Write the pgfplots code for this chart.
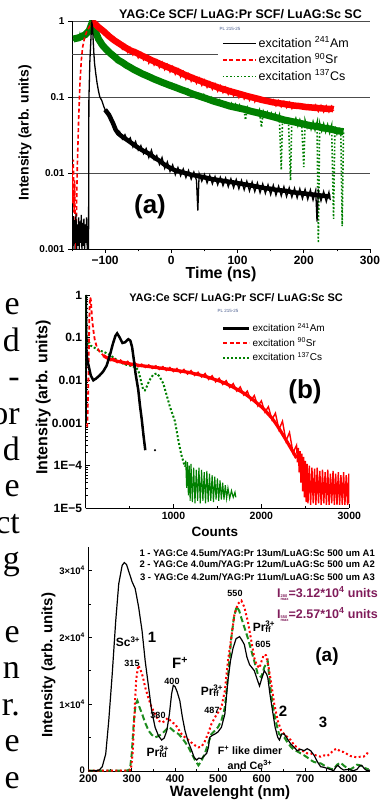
\documentclass[border=0pt]{standalone}
\usepackage{fontspec}
\setmainfont{Liberation Sans}
\newfontfamily\seriffont{Liberation Serif}
\usepackage{pgfplots}
\pgfplotsset{compat=1.18}
\definecolor{cred}{RGB}{255,0,0}
\definecolor{cgreen}{RGB}{0,128,0}
\definecolor{cgreenc}{RGB}{30,140,30}
\definecolor{cpurple}{RGB}{128,28,90}
\definecolor{cpl}{RGB}{70,90,140}
\newcommand{\fs}[1]{\fontsize{#1}{#1}\selectfont}
\newcommand{\supsub}[2]{\rlap{\textsuperscript{#1}}\textsubscript{#2}}
\pgfplotsset{
  myax/.style={scale only axis, anchor=south west,
    axis x line*=bottom, axis y line*=left,
    axis line style={-, line width=0.8pt},
    every outer x axis line/.append style={-},
    every outer y axis line/.append style={-},
    tick style={black, line width=0.6pt}},
}
\begin{document}
\begin{tikzpicture}[x=1pt,y=1pt]
\useasboundingbox (0,0) rectangle (390,800);

% fragments of the page text at the left edge
\foreach \k/\t in {0/e,1/d,2/-,3/or,4/d,5/e,6/ct,7/g,9/e,10/n,11/r.,12/e,13/e} {
  \node[anchor=base east, inner sep=0pt, font=\seriffont\fs{34}] at (20, {800-315-36.4*\k}) {\t};
}

%================ (a) decay ==================
\begin{axis}[myax,
  at={(72pt,551pt)}, width=298pt, height=228pt,
  xmin=-150, xmax=300, ymode=log, ymin=0.001, ymax=1,
  xtick={-100,0,100,200,300}, xticklabels={−100,0,100,200,300},
  minor xtick={-150,-50,50,150,250},
  ytick={0.001,0.01,0.1,1}, yticklabels={0.001,0.01,0.1,1},
  yminorticks=false,
  tick align=outside, major tick length=4pt, minor tick length=2.5pt,
  xticklabel style={font=\bfseries\fs{12}},
  yticklabel style={font=\bfseries\fs{10}},
  ymajorgrids, grid style={black!70, line width=0.6pt},
  xlabel={Time (ns)}, xlabel style={font=\bfseries\fs{16}, at={(axis description cs:0.5,0)}, anchor=center, yshift=-25pt},
  ylabel={Intensity (arb. units)}, ylabel style={font=\bfseries\fs{14}, at={(axis description cs:-0.158,0.51)}, anchor=center},
  legend style={draw=none, fill=none, at={(0.503,0.93)}, anchor=north west, font=\fs{12.5}, inner sep=0pt, row sep=3.5pt, column sep=1pt, nodes={inner sep=1pt, text height=9pt, text depth=2pt}},
  legend cell align=left,
  legend image code/.code={\draw[#1] (0pt,0pt) -- (33pt,0pt);},
  reverse legend,
]
\addplot[black!70, line width=0.6pt, forget plot] coordinates {(-150,0.368) (70,0.368)};
% 137Cs band + noisy trace
\addplot[cgreen, line width=7pt, forget plot] coordinates {
(-148,0.58) (-140,0.6) (-130,0.66) (-124,0.75) (-120,0.93) (-116,0.78) (-110,0.58) (-104,0.48) (-98,0.42) (-92,0.375) (-86,0.34) (-80,0.305) (-74,0.285) (-68,0.262) (-62,0.245) (-56,0.228) (-50,0.215) (-44,0.202) (-38,0.192) (-32,0.182) (-26,0.172) (-20,0.164) (-14,0.156) (-8,0.149) (-2,0.142) (4,0.136) (10,0.13) (16,0.124) (22,0.119) (28,0.113) (34,0.108) (40,0.104) (46,0.1) (52,0.096) (58,0.092) (64,0.088) (70,0.085) (76,0.082) (82,0.079) (88,0.076) (94,0.074) (100,0.072) (110,0.069) (120,0.065) (130,0.062) (140,0.059) (150,0.056) (160,0.053) (170,0.05) (180,0.048) (190,0.046) (200,0.044) (210,0.042) (220,0.041) (230,0.039) (240,0.038) (250,0.036) (260,0.035)};
\addplot[cgreen, dotted, line width=1.6pt] coordinates {
(-148,0.55) (-146,0.65) (-144,0.52) (-142,0.62) (-140,0.55) (-138,0.66) (-136,0.56) (-134,0.68) (-132,0.6) (-130,0.72) (-128,0.65) (-126,0.78) (-124,0.72) (-122,0.88) (-120,0.97) (-118,0.85) (-116,0.78) (-114,0.68) (-112,0.64) (-110,0.56) (-107,0.55) (-104,0.47) (-101,0.47) (-98,0.41) (-95,0.42) (-92,0.37) (-89,0.38) (-86,0.33) (-83,0.345) (-80,0.30) (-77,0.315) (-74,0.28) (-71,0.29) (-68,0.26) (-65,0.27) (-62,0.24) (-59,0.255) (-56,0.225) (-53,0.24) (-50,0.21) (-47,0.225) (-44,0.2) (-41,0.21) (-38,0.19) (-35,0.2) (-32,0.178) (-29,0.19) (-26,0.168) (-23,0.18) (-20,0.16) (-17,0.171) (-14,0.152) (-11,0.163) (-8,0.145) (-5,0.156) (-2,0.138) (1,0.15) (4,0.132) (7,0.143) (10,0.126) (13,0.137) (16,0.12) (19,0.131) (22,0.115) (25,0.126) (28,0.11) (31,0.121) (34,0.105) (37,0.116) (40,0.1) (43,0.111) (46,0.096) (49,0.107) (52,0.092) (55,0.102) (58,0.088) (61,0.098) (64,0.085) (67,0.094) (70,0.082) (73,0.091) (76,0.079) (79,0.088) (82,0.076) (85,0.085) (88,0.073) (91,0.082) (94,0.07) (97,0.08) (100,0.068) (103,0.078) (106,0.066) (109,0.075) (112,0.05) (115,0.072) (118,0.062) (121,0.071) (124,0.06) (127,0.069) (130,0.058) (133,0.067) (136,0.04) (139,0.064) (142,0.055) (145,0.063) (148,0.053) (151,0.061) (154,0.052) (157,0.06) (160,0.05) (163,0.058) (166,0.011) (168,0.056) (171,0.047) (174,0.055) (177,0.045) (180,0.008) (182,0.053) (185,0.044) (188,0.052) (191,0.042) (194,0.05) (197,0.041) (200,0.012) (202,0.049) (205,0.04) (208,0.048) (211,0.038) (214,0.047) (217,0.037) (220,0.046) (222,0.0012) (224,0.045) (227,0.036) (230,0.044) (233,0.035) (236,0.043) (239,0.034) (242,0.042) (245,0.0025) (247,0.041) (250,0.033) (253,0.04) (256,0.031) (258,0.002) (260,0.036)};
\addlegendentry{excitation \textsuperscript{137}Cs}
% 90Sr band + noisy trace
\addplot[cred, line width=6.5pt, forget plot] coordinates {
(-119,0.97) (-116,0.93) (-110,0.83) (-102,0.73) (-94,0.63) (-86,0.555) (-78,0.5) (-70,0.45) (-62,0.41) (-54,0.385) (-46,0.355) (-38,0.33) (-30,0.305) (-22,0.285) (-14,0.265) (-6,0.248) (2,0.232) (10,0.217) (18,0.2) (26,0.187) (34,0.175) (42,0.165) (50,0.155) (58,0.146) (66,0.138) (74,0.13) (82,0.124) (90,0.118) (98,0.113) (106,0.108) (114,0.103) (122,0.099) (130,0.095) (138,0.091) (146,0.088) (154,0.085) (162,0.083) (170,0.081) (178,0.079) (186,0.077) (194,0.076) (202,0.074) (210,0.073) (218,0.072) (226,0.071) (234,0.07) (242,0.07) (245,0.069)};
\addplot[cred, dash pattern=on 4pt off 2.5pt, line width=1.6pt] coordinates {
(-150,0.012) (-149,0.004) (-148,0.015) (-147,0.003) (-146,0.008) (-145,0.0015) (-144,0.001) (-143,0.004) (-142,0.012) (-140,0.05) (-138,0.15) (-136,0.3) (-134,0.45) (-131,0.6) (-128,0.72) (-125,0.8) (-122,0.9) (-119,1.0) (-116,0.97) (-113,0.86) (-110,0.88) (-106,0.74) (-102,0.78) (-98,0.63) (-94,0.67) (-90,0.55) (-86,0.6) (-82,0.48) (-78,0.53) (-74,0.43) (-70,0.48) (-66,0.39) (-62,0.44) (-58,0.36) (-54,0.41) (-50,0.33) (-46,0.38) (-42,0.31) (-38,0.35) (-34,0.28) (-30,0.33) (-26,0.265) (-22,0.305) (-18,0.245) (-14,0.285) (-10,0.23) (-6,0.265) (-2,0.215) (2,0.25) (6,0.2) (10,0.232) (14,0.185) (18,0.215) (22,0.172) (26,0.2) (30,0.162) (34,0.187) (38,0.152) (42,0.176) (46,0.143) (50,0.166) (54,0.135) (58,0.156) (62,0.127) (66,0.148) (70,0.12) (74,0.14) (78,0.115) (82,0.133) (86,0.109) (90,0.126) (94,0.104) (98,0.121) (102,0.099) (106,0.116) (110,0.095) (114,0.111) (118,0.091) (122,0.106) (126,0.087) (130,0.102) (134,0.084) (138,0.098) (142,0.081) (146,0.094) (150,0.079) (154,0.091) (158,0.077) (162,0.089) (166,0.075) (170,0.087) (174,0.073) (178,0.085) (182,0.071) (186,0.083) (190,0.07) (194,0.082) (198,0.068) (202,0.08) (206,0.067) (210,0.079) (214,0.066) (218,0.078) (222,0.065) (226,0.077) (230,0.064) (234,0.076) (238,0.064) (242,0.075) (245,0.066)};
\addlegendentry{excitation \textsuperscript{90}Sr}
% 241Am band + noisy trace
\addplot[black, line width=4.5pt, forget plot] coordinates {
(-100,0.068) (-94,0.058) (-88,0.045) (-84,0.037) (-80,0.033) (-74,0.03) (-66,0.027) (-58,0.024) (-50,0.0215) (-42,0.0195) (-34,0.018) (-26,0.016) (-18,0.0145) (-10,0.0128) (-2,0.0117) (6,0.0108) (14,0.0104) (22,0.0099) (30,0.0095) (38,0.0092) (46,0.0089) (54,0.0086) (62,0.0083) (70,0.0081) (78,0.0079) (86,0.0077) (94,0.0075) (102,0.0073) (110,0.0071) (118,0.0069) (126,0.0067) (134,0.0065) (142,0.0063) (150,0.0062) (158,0.006) (166,0.0059) (174,0.0058) (182,0.0056) (190,0.0055) (198,0.0054) (206,0.0053) (214,0.0052) (222,0.0051) (230,0.005) (240,0.0049)};
\addplot[black, line width=1.3pt] coordinates {
(-150,0.0022) (-149,0.0011) (-148,0.0027) (-147,0.0010) (-146,0.0024) (-145,0.0012) (-144,0.0029) (-143,0.0010) (-142,0.0021) (-141,0.0011) (-140,0.0026) (-139,0.0010) (-138,0.0023) (-137,0.0012) (-136,0.0028) (-135,0.0010) (-134,0.0022) (-133,0.0011) (-132,0.0025) (-131,0.0010) (-130,0.0021) (-129,0.0012) (-128,0.0026) (-127,0.0010) (-126,0.0020) (-125,0.0010) (-124.5,0.09) (-123,0.3) (-121,0.7) (-120,0.95) (-119,0.85) (-118,0.55) (-117,0.38) (-116,0.28) (-114,0.2) (-112,0.15) (-110,0.12) (-108,0.1) (-105,0.09) (-102,0.075) (-100,0.068) (-97,0.063) (-94,0.058) (-91,0.052) (-88,0.045) (-86,0.04) (-84,0.036) (-82,0.034) (-80,0.033) (-78,0.035) (-74,0.028) (-70,0.032) (-66,0.026) (-62,0.029) (-58,0.022) (-54,0.026) (-50,0.020) (-46,0.023) (-42,0.018) (-38,0.021) (-34,0.016) (-30,0.02) (-26,0.015) (-22,0.017) (-18,0.013) (-14,0.016) (-10,0.0115) (-6,0.014) (-2,0.0105) (2,0.0128) (6,0.0095) (10,0.0118) (14,0.0092) (18,0.0113) (22,0.0087) (26,0.0108) (30,0.0083) (34,0.0103) (38,0.0080) (40,0.0032) (42,0.0098) (46,0.0078) (50,0.0096) (54,0.0074) (58,0.0093) (62,0.0072) (66,0.009) (70,0.0070) (74,0.0088) (78,0.0068) (82,0.0086) (86,0.0066) (90,0.0084) (94,0.0064) (98,0.0082) (102,0.0062) (106,0.008) (110,0.0060) (114,0.0078) (118,0.0058) (122,0.0076) (126,0.0057) (130,0.0074) (134,0.0055) (138,0.0072) (142,0.0054) (146,0.007) (150,0.0052) (154,0.0069) (158,0.0051) (162,0.0067) (166,0.0050) (170,0.0066) (174,0.0049) (178,0.0064) (182,0.0048) (186,0.0063) (190,0.0047) (194,0.0062) (198,0.0046) (202,0.0061) (206,0.0045) (210,0.006) (214,0.0044) (218,0.0059) (220,0.0023) (222,0.0058) (226,0.0043) (230,0.0057) (234,0.0042) (238,0.0056) (240,0.0044)};
\addlegendentry{excitation \textsuperscript{241}Am}
\end{axis}
\node[anchor=east, inner sep=0pt, font=\bfseries\fs{12.5}] at (362,786) {YAG:Ce SCF/ LuAG:Pr SCF/ LuAG:Sc SC};
\node[inner sep=0pt, font=\fs{4.5}, text=cpl] at (230,771) {PL 215-25};
\node[inner sep=0pt, font=\bfseries\fs{26}] at (150,593) {(a)};

%================ (b) pulse height ==================
\begin{axis}[myax,
  at={(85.5pt,291.7pt)}, width=263.8pt, height=213.3pt,
  xmin=0, xmax=3000, ymode=log, ymin=1e-5, ymax=1,
  xtick={1000,2000,3000}, xticklabels={1000,2000,3000},
  minor xtick={500,1500,2500},
  ytick={1e-5,1e-4,0.001,0.01,0.1,1}, yticklabels={1E−5,1E−4,0.001,0.01,0.1,1},
  tick align=inside, major tick length=4pt, minor tick length=2.5pt,
  xticklabel style={font=\bfseries\fs{10.5}},
  yticklabel style={font=\bfseries\fs{12}},
  xlabel={Counts}, xlabel style={font=\bfseries\fs{13.5}, at={(axis description cs:0.49,0)}, anchor=center, yshift=-24pt},
  ylabel={Intensity (arb. units)}, ylabel style={font=\bfseries\fs{16}, at={(axis description cs:-0.16,0.52)}, anchor=center},
  legend style={draw=none, fill=none, at={(0.517,0.869)}, anchor=north west, font=\fs{10}, inner sep=0pt, row sep=3.5pt, column sep=1pt, nodes={inner sep=1pt, text height=7.5pt, text depth=1.5pt}},
  legend cell align=left,
  legend image code/.code={\draw[#1] (0pt,0pt) -- (26pt,0pt);},
  reverse legend,
]
% 137Cs
\addplot[cgreen, dotted, line width=2pt] coordinates {
(4,0.001) (5,0.5) (6,1.0) (8,0.3) (12,0.1) (20,0.07) (38,0.08) (60,0.065) (89,0.06) (120,0.055) (150,0.05) (203,0.047) (240,0.043) (279,0.039) (320,0.034) (355,0.03) (390,0.027) (420,0.025) (468,0.023) (510,0.022) (544,0.021) (575,0.02) (600,0.017) (620,0.012) (640,0.008) (657,0.006) (675,0.0058) (695,0.007) (714,0.0087) (740,0.011) (770,0.0135) (808,0.0145) (840,0.0125) (865,0.01) (884,0.0085) (905,0.006) (930,0.004) (960,0.0024) (990,0.0016) (1017,0.0011) (1040,6e-4) (1055,4e-4) (1075,2.5e-4) (1090,1.8e-4) (1110,1.3e-4) (1130,9.5e-5)};
\addlegendentry{excitation \textsuperscript{137}Cs}
\addplot[cgreen, line width=1.1pt, forget plot] coordinates {
(1130,9.5e-5) (1140,1.3e-4) (1150,3e-5) (1160,1.2e-4) (1170,2e-5) (1180,1e-4) (1190,1.5e-5) (1200,1.1e-4) (1215,1.4e-5) (1230,9e-5) (1245,1.3e-5) (1260,8e-5) (1275,1.5e-5) (1290,9e-5) (1305,1.3e-5) (1320,8e-5) (1335,1.5e-5) (1350,7e-5) (1365,1.3e-5) (1380,7.5e-5) (1395,1.4e-5) (1410,6.5e-5) (1425,1.5e-5) (1440,6e-5) (1455,1.4e-5) (1470,5.5e-5) (1485,1.6e-5) (1500,5e-5) (1515,1.5e-5) (1530,4.5e-5) (1545,1.6e-5) (1560,4e-5) (1575,1.6e-5) (1590,3.5e-5) (1605,1.7e-5) (1620,3e-5) (1640,1.7e-5) (1660,2.6e-5) (1680,1.8e-5) (1700,2.4e-5) (1710,1.8e-5)};
% 90Sr
\addplot[cred, dash pattern=on 4pt off 2.5pt, line width=1.8pt] coordinates {
(20,0.0008) (30,0.005) (38,0.05) (45,0.4) (52,0.88) (60,0.8) (68,0.45) (78,0.24) (89,0.15) (105,0.09) (127,0.062) (160,0.047) (203,0.038) (240,0.036)};
\addlegendentry{excitation \textsuperscript{90}Sr}
\addplot[cred, line width=3.2pt, forget plot] coordinates {
(203,0.038) (240,0.034) (280,0.031) (320,0.03) (360,0.028) (400,0.027) (440,0.026) (480,0.025) (520,0.024) (560,0.0235) (600,0.0225) (640,0.022) (680,0.0215) (720,0.021) (760,0.0205) (800,0.02) (840,0.0195) (880,0.019) (920,0.0185) (960,0.018) (1000,0.0175) (1040,0.017) (1080,0.0165) (1120,0.016) (1160,0.0155) (1200,0.015) (1240,0.0143) (1280,0.0137) (1320,0.013) (1360,0.0124) (1400,0.0117) (1440,0.011) (1480,0.0103) (1520,0.0097) (1560,0.009) (1600,0.0083) (1640,0.0076) (1680,0.0069) (1720,0.0062) (1760,0.0056) (1800,0.005) (1840,0.0044) (1880,0.0038) (1920,0.0033) (1960,0.0028) (2000,0.0024) (2040,0.002) (2080,0.0016) (2120,0.0013) (2160,0.001) (2200,7.5e-4) (2240,5.5e-4) (2280,4e-4) (2320,2.9e-4) (2360,2.1e-4) (2400,1.5e-4)};
\addplot[cred, line width=1.4pt, forget plot] coordinates {
(240,0.036) (280,0.029) (320,0.033) (360,0.026) (400,0.03) (440,0.024) (480,0.028) (520,0.022) (560,0.026) (600,0.021) (640,0.024) (680,0.02) (720,0.023) (760,0.019) (800,0.022) (840,0.018) (880,0.021) (920,0.017) (960,0.02) (1000,0.016) (1040,0.019) (1080,0.015) (1120,0.018) (1160,0.014) (1200,0.017) (1240,0.013) (1280,0.0155) (1320,0.012) (1360,0.0145) (1400,0.0105) (1440,0.0128) (1480,0.0092) (1520,0.0112) (1560,0.008) (1600,0.0098) (1640,0.0068) (1680,0.0084) (1720,0.0056) (1760,0.007) (1800,0.0045) (1840,0.0056) (1880,0.0034) (1920,0.0044) (1960,0.0025) (2000,0.0033) (2040,0.0018) (2080,0.0024) (2120,0.0012) (2160,0.0017) (2200,7e-4) (2240,0.0011) (2280,3.8e-4) (2320,6e-4) (2360,2e-4) (2400,3e-4) (2410,1.2e-4) (2420,2.6e-4) (2430,7e-5) (2440,2.2e-4) (2450,4e-5) (2460,1.9e-4) (2470,2.5e-5) (2480,1.6e-4) (2490,1.8e-5) (2500,1.3e-4) (2510,1.4e-5) (2520,1.1e-4) (2530,1.3e-5) (2545,1e-4) (2560,1.2e-5) (2575,9e-5) (2590,1.3e-5) (2605,8.5e-5) (2620,1.2e-5) (2635,9e-5) (2650,1.3e-5) (2665,7.5e-5) (2680,1.2e-5) (2695,8e-5) (2710,1.3e-5) (2725,7e-5) (2740,1.2e-5) (2755,8e-5) (2770,1.2e-5) (2785,6.5e-5) (2800,1.3e-5) (2815,7.5e-5) (2830,1.2e-5) (2845,6.5e-5) (2860,1.2e-5) (2875,7e-5) (2890,1.2e-5) (2905,6e-5) (2920,1.2e-5) (2935,7e-5) (2950,1.2e-5) (2965,6e-5) (2980,1.2e-5) (2995,6.5e-5) (3000,1.3e-5)};
% 241Am
\addplot[black, line width=2.5pt] coordinates {
(0,0.001) (3,1.0) (6,0.3) (10,0.05) (20,0.03) (40,0.02) (60,0.013) (89,0.010) (120,0.011) (160,0.013) (200,0.016) (240,0.022) (279,0.04) (310,0.07) (340,0.11) (360,0.126) (390,0.1) (420,0.075) (450,0.078) (487,0.092) (510,0.085) (530,0.06) (550,0.03) (570,0.014) (600,0.006) (620,0.0025) (640,0.0012) (660,0.0005) (680,0.00023)};
\addlegendentry{excitation \textsuperscript{241}Am}
\addplot[black, only marks, mark=*, mark size=0.8pt, forget plot] coordinates {(790,0.00023)};
\end{axis}
\node[anchor=east, inner sep=0pt, font=\bfseries\fs{11}] at (343,502) {YAG:Ce SCF/ LuAG:Pr SCF/ LuAG:Sc SC};
\node[inner sep=0pt, font=\fs{4.5}, text=cpl] at (228,489) {PL 215-25};
\node[inner sep=0pt, font=\bfseries\fs{26}] at (305,408) {(b)};

%================ (c) spectra ==================
\begin{axis}[myax,
  at={(88.4pt,28.3pt)}, width=281.6pt, height=225pt,
  xmin=200, xmax=850, ymin=-150, ymax=33580,
  xtick={200,300,400,500,600,700,800}, xticklabels={200,300,400,500,600,700,800},
  minor x tick num=1,
  ytick={0,10000,20000,30000}, yticklabels={0,1×10\textsuperscript{4},2×10\textsuperscript{4},3×10\textsuperscript{4}},
  minor y tick num=1, scaled y ticks=false,
  tick align=inside, major tick length=4pt, minor tick length=2.5pt,
  xticklabel style={font=\bfseries\fs{11}},
  yticklabel style={font=\bfseries\fs{9.5}},
  xlabel={Wavelenght (nm)}, xlabel style={font=\bfseries\fs{15}, at={(axis description cs:0.503,0)}, anchor=center, yshift=-21pt},
  ylabel={Intensity (arb. units)}, ylabel style={font=\bfseries\fs{15}, at={(axis description cs:-0.142,0.474)}, anchor=center},
]
\addplot[cgreenc, dash pattern=on 6pt off 3pt, line width=2pt] coordinates {
(200,0) (288,0) (296,200) (300,2500) (305,7500) (309,10000) (313,10500) (318,9500) (324,8500) (331,7200) (339,6000) (346,5400) (354,5000) (362,5200) (369,5500) (377,6000) (385,6500) (391,6300) (396,6000) (402,5700) (408,5500) (415,5000) (423,4300) (431,3500) (438,2600) (446,1600) (454,800) (461,1500) (469,2600) (476,4000) (484,5500) (492,6000) (499,6500) (507,7500) (515,9500) (522,14000) (530,20000) (536,23000) (542,24600) (548,24000) (553,22900) (560,21500) (568,19900) (576,18000) (583,16400) (591,14500) (599,14000) (606,15500) (614,16400) (619,13000) (625,10000) (632,7500) (640,5500) (646,5200) (652,5000) (660,4200) (667,3600) (675,3100) (682,2900) (690,2600) (698,2300) (705,2000) (713,1600) (721,1300) (729,1200) (736,1100) (744,800) (751,500) (759,300) (766,200) (774,900) (782,1200) (789,800) (797,400) (805,200) (812,500) (820,900) (828,800) (835,500) (842,300) (847,200)};
\addplot[cred, dash pattern=on 2pt off 2.5pt, line width=2pt] coordinates {
(200,0) (290,0) (298,100) (302,2500) (306,8000) (310,13500) (315,15800) (320,15200) (326,14000) (331,12500) (338,11000) (346,9500) (354,8500) (362,7500) (370,7200) (377,7500) (383,7900) (388,7600) (394,7200) (400,7000) (407,6300) (415,5500) (423,5000) (431,4600) (438,4200) (446,3800) (454,3500) (461,3600) (468,4300) (476,5500) (484,7000) (492,8000) (500,8800) (507,9500) (515,12000) (522,16400) (530,20000) (537,23400) (545,25000) (553,25500) (560,24500) (568,22400) (576,19500) (583,16900) (589,15800) (595,15400) (600,16500) (605,17400) (610,17300) (616,15500) (621,13500) (629,10000) (637,7500) (645,6000) (652,5500) (660,5000) (667,4600) (675,3800) (682,3500) (690,3000) (698,2900) (705,2600) (713,2600) (721,2400) (729,2200) (736,2100) (744,2300) (751,2200) (759,2600) (766,3100) (774,3300) (781,2900) (789,2800) (797,2500) (805,2200) (812,2100) (820,2000) (828,2100) (835,2100) (842,2400) (847,3000)};
\addplot[black, line width=1.2pt] coordinates {
(200,0) (215,0) (225,100) (232,600) (240,2500) (247,7500) (255,14500) (263,22400) (270,28000) (278,30800) (283,31200) (288,30900) (295,29500) (301,28300) (308,27300) (316,24500) (324,20900) (331,16500) (339,12500) (346,9000) (354,6500) (362,5200) (369,4600) (375,4900) (381,6000) (387,8500) (392,11500) (396,12800) (400,12600) (405,11800) (411,10500) (417,8000) (423,6000) (430,4400) (438,3100) (444,2000) (450,1600) (455,1900) (461,1800) (467,2200) (473,2600) (477,3500) (480,5000) (486,5300) (492,5500) (499,5800) (507,6500) (515,8500) (522,13500) (528,16500) (534,18400) (541,19800) (549,20100) (555,19500) (560,18900) (566,17000) (572,15900) (578,15400) (583,15000) (589,13800) (595,12700) (600,13800) (606,15000) (611,14500) (614,14000) (619,11500) (625,9000) (631,6500) (637,5000) (641,4600) (646,5500) (652,5500) (659,4800) (667,4000) (675,3500) (682,3000) (690,3200) (698,3000) (705,3300) (713,3000) (721,2300) (728,1400) (736,600) (744,500) (751,350) (758,200) (766,0) (772,600) (776,800) (782,400) (789,100) (800,200) (812,0) (820,200) (826,700) (831,800) (837,300) (843,0) (850,100)};
\end{axis}
% annotations of (c)
\node[anchor=east, inner sep=0pt, font=\bfseries\fs{9.5}] at (375,246.7) {1 - YAG:Ce 4.5um/YAG:Pr 13um/LuAG:Sc 500 um A1};
\node[anchor=east, inner sep=0pt, font=\bfseries\fs{9.5}] at (375,235.7) {2 - YAG:Ce 4.0um/YAG:Pr 12um/LuAG:Sc 500 um A2};
\node[anchor=east, inner sep=0pt, font=\bfseries\fs{9.5}] at (375,222.7) {3 - YAG:Ce 4.2um/YAG:Pr 11um/LuAG:Sc 500 um A3};
\node[inner sep=0pt, font=\bfseries\fs{9}] at (235,207) {550};
\node[anchor=west, inner sep=0pt, font=\bfseries\fs{12.5}, text=cpurple] at (277,206) {I{\fs{4}\begin{tabular}[t]{@{}l@{}}280\\[-1pt]max\end{tabular}}=3.12*10\textsuperscript{4} units};
\node[anchor=west, inner sep=0pt, font=\bfseries\fs{12.5}, text=cpurple] at (277,185) {I{\fs{4}\begin{tabular}[t]{@{}l@{}}550\\[-1pt]max\end{tabular}}=2.57*10\textsuperscript{4} units};
\node[inner sep=0pt, font=\bfseries\fs{12}] at (262,173) {Pr\supsub{3+}{ff}};
\node[inner sep=0pt, font=\bfseries\fs{9}] at (263,156) {605};
\node[inner sep=0pt, font=\bfseries\fs{12}] at (128,158) {Sc\textsuperscript{3+}};
\node[inner sep=0pt, font=\bfseries\fs{15}] at (152,163) {1};
\node[inner sep=0pt, font=\bfseries\fs{9}] at (132,137) {315};
\node[inner sep=0pt, font=\bfseries\fs{15}] at (180,137) {F\textsuperscript{+}};
\node[inner sep=0pt, font=\bfseries\fs{9}] at (172,119) {400};
\node[inner sep=0pt, font=\bfseries\fs{19}] at (327,143) {(a)};
\node[inner sep=0pt, font=\bfseries\fs{12}] at (210,109) {Pr\supsub{3+}{ff}};
\node[inner sep=0pt, font=\bfseries\fs{9}] at (212,90) {487};
\node[inner sep=0pt, font=\bfseries\fs{9}] at (158,85) {380};
\node[inner sep=0pt, font=\bfseries\fs{15}] at (283,89) {2};
\node[inner sep=0pt, font=\bfseries\fs{15}] at (323,78) {3};
\node[inner sep=0pt, font=\bfseries\fs{12}] at (157,48) {Pr\supsub{3+}{fd}};
\node[inner sep=0pt, font=\bfseries\fs{10.7}] at (250,50) {F\textsuperscript{+} like dimer};
\node[inner sep=0pt, font=\bfseries\fs{10.7}] at (250,35) {and Ce\textsuperscript{3+}};
\end{tikzpicture}
\end{document}
